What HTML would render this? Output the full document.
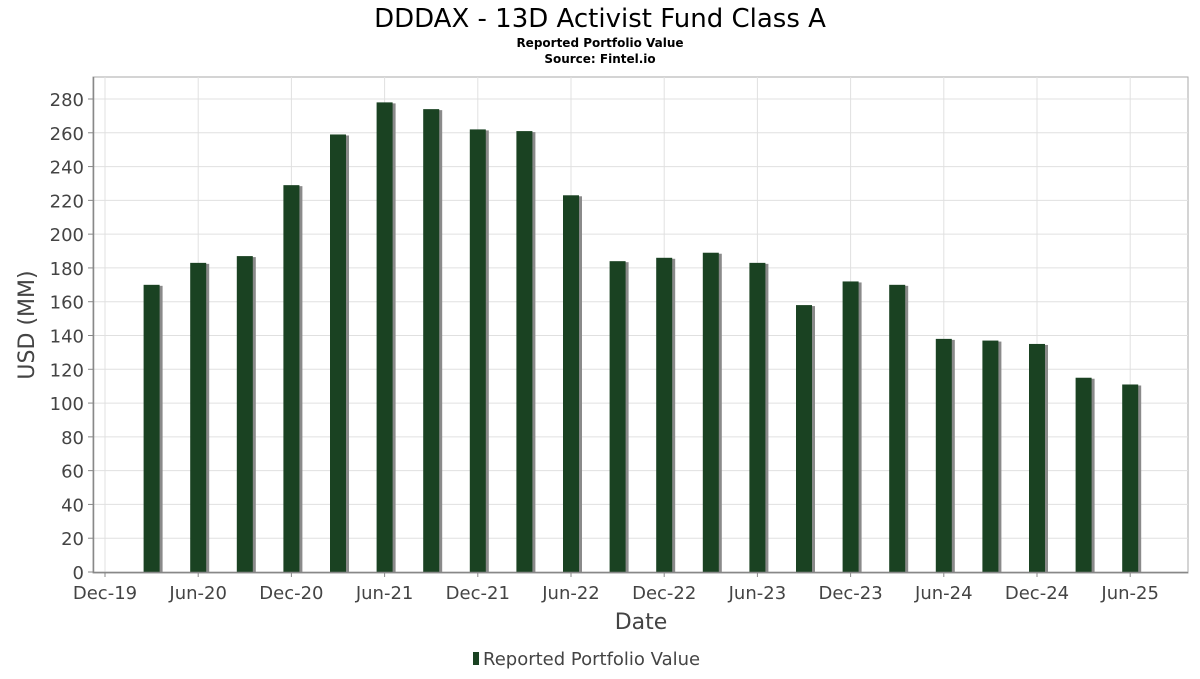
<!DOCTYPE html>
<html><head><meta charset="utf-8"><style>
body{margin:0;background:#fff;font-family:"DejaVu Sans","Liberation Sans",sans-serif;}
svg text{font-family:"DejaVu Sans","Liberation Sans",sans-serif;}
</style></head><body>
<svg id="chart" width="1200" height="675" xmlns="http://www.w3.org/2000/svg">
<rect width="1200" height="675" fill="#fff"/>
<text x="600" y="27" text-anchor="middle" font-size="26" fill="#000">DDDAX - 13D Activist Fund Class A</text>
<text x="600" y="47" text-anchor="middle" font-size="12" font-weight="bold" fill="#000">Reported Portfolio Value</text>
<text x="600" y="63" text-anchor="middle" font-size="12" font-weight="bold" fill="#000">Source: Fintel.io</text>
<rect x="93" y="77" width="1095" height="496" fill="#fff" stroke="#aaa" stroke-width="1"/>
<g id="grid"></g>
<g id="bars"></g>
<g id="axes"></g>
<text transform="translate(34,325) rotate(-90)" text-anchor="middle" font-size="22" fill="#444">USD (MM)</text>
<text x="641" y="629" text-anchor="middle" font-size="22" fill="#444">Date</text>
<g>
<rect x="473" y="652" width="6" height="13" fill="#1a4222"/>
<text x="483" y="665" font-size="18" fill="#444">Reported Portfolio Value</text>
</g>
</svg>
<script>
const categories=["Mar-20","Jun-20","Sep-20","Dec-20","Mar-21","Jun-21","Sep-21","Dec-21","Mar-22","Jun-22","Sep-22","Dec-22","Mar-23","Jun-23","Sep-23","Dec-23","Mar-24","Jun-24","Sep-24","Dec-24","Mar-25","Jun-25"];
const values=[170,183,187,229,259,278,274,262,261,223,184,186,189,183,158,172,170,138,137,135,115,111];
const yTicks=[0,20,40,60,80,100,120,140,160,180,200,220,240,260,280];
const xTickLabels=["Dec-19","Jun-20","Dec-20","Jun-21","Dec-21","Jun-22","Dec-22","Jun-23","Dec-23","Jun-24","Dec-24","Jun-25"];

const NS="http://www.w3.org/2000/svg";
function y(v){return 572-(v/280)*(572-99);}
function xQ(i){return 105+(i+1)*46.6;} // quarter index from Dec-19
const grid=document.getElementById('grid'),bars=document.getElementById('bars'),axes=document.getElementById('axes');
function mk(tag,attrs,parent){const e=document.createElementNS(NS,tag);for(const k in attrs)e.setAttribute(k,attrs[k]);parent.appendChild(e);return e;}
yTicks.forEach(t=>{
  const g=mk('line',{x1:93,x2:1188,y1:y(t),y2:y(t),stroke:'#e0e0e0','stroke-width':1},grid);
  
  
  mk('line',{x1:88,x2:93,y1:y(t),y2:y(t),stroke:'#888'},axes);
  const tx=mk('text',{x:84,y:y(t)+7,'text-anchor':'end','font-size':18,fill:'#444'},axes);
  tx.textContent=t;
  
  
});
xTickLabels.forEach((l,i)=>{
  const x=105+i*93.2;
  const g=mk('line',{x1:x,x2:x,y1:77,y2:572,stroke:'#e0e0e0'},grid);
  
  
  mk('line',{x1:x,x2:x,y1:572,y2:577,stroke:'#888'},axes);
  const tx=mk('text',{x:x,y:599,'text-anchor':'middle','font-size':18,fill:'#444'},axes);
  tx.textContent=l;
  
  
});
mk('line',{x1:93,x2:1188,y1:572.5,y2:572.5,stroke:'#888','stroke-width':1.5},axes);
mk('line',{x1:93.5,x2:93.5,y1:77,y2:573,stroke:'#888','stroke-width':1.5},axes);
values.forEach((v,i)=>{
  const cx=xQ(i), top=y(v);
  const s=mk('rect',{x:cx-5,y:top+1,width:16,height:572-top-1,fill:'#8a8a8a'},bars);
  
  
  const b=mk('rect',{x:cx-8,y:top,width:16,height:572-top,fill:'#1a4222'},bars);
  
  
});
</script>
</body></html>
